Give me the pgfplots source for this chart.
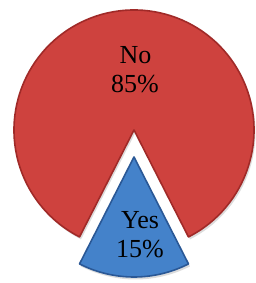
\documentclass[border=0pt]{standalone}
\usepackage{pgfplots}
\pgfplotsset{compat=1.18}
\usepackage{fontspec}
\setmainfont{Liberation Serif}
\definecolor{redfill}{RGB}{206,66,62}
\definecolor{reddark}{RGB}{160,42,40}
\definecolor{bluefill}{RGB}{68,130,202}
\definecolor{bluedark}{RGB}{42,88,150}
\begin{document}
\begin{tikzpicture}
\def\valNo{85}
\def\valYes{15}
\pgfmathsetmacro{\half}{\valYes/(\valNo+\valYes)*180}
\pgfmathsetmacro{\aA}{-90+\half}
\pgfmathsetmacro{\aB}{270-\half}
\pgfmathsetmacro{\aC}{270+\half}
\begin{axis}[
  x=1pt, y=1pt, scale only axis,
  xmin=0, xmax=255, ymin=0, ymax=283,
  hide axis, clip=false,
]
\coordinate (ll) at (axis cs:0,0);
\coordinate (ur) at (axis cs:255,283);
% shadows
\fill[black!30, opacity=0.45] (axis cs:135.5,150.5) -- ++(\aA:120pt) arc[start angle=\aA, end angle=\aB, radius=120pt] -- cycle;
\fill[black!30, opacity=0.45] (axis cs:135.5,123.5) -- ++(\aB:120pt) arc[start angle=\aB, end angle=\aC, radius=120pt] -- cycle;
% No
\fill[redfill, draw=reddark, line width=1.6pt, line join=round] (axis cs:134,153) -- ++(\aA:120pt) arc[start angle=\aA, end angle=\aB, radius=120pt] -- cycle;
% Yes
\fill[bluefill, draw=bluedark, line width=1.6pt, line join=round] (axis cs:134,126) -- ++(\aB:120pt) arc[start angle=\aB, end angle=\aC, radius=120pt] -- cycle;
\node[anchor=base, inner sep=0pt, font=\fontsize{26}{29}\selectfont] at (axis cs:135.5,219.7) {No};
\node[anchor=base, inner sep=0pt, font=\fontsize{26}{29}\selectfont] at (axis cs:135,190.7) {85\%};
\node[anchor=base, inner sep=0pt, font=\fontsize{26}{29}\selectfont] at (axis cs:140,54.7) {Yes};
\node[anchor=base, inner sep=0pt, font=\fontsize{26}{29}\selectfont] at (axis cs:140,25.7) {15\%};
\end{axis}
\pgfresetboundingbox
\path[use as bounding box] (ll) rectangle (ur);
\end{tikzpicture}
\end{document}
